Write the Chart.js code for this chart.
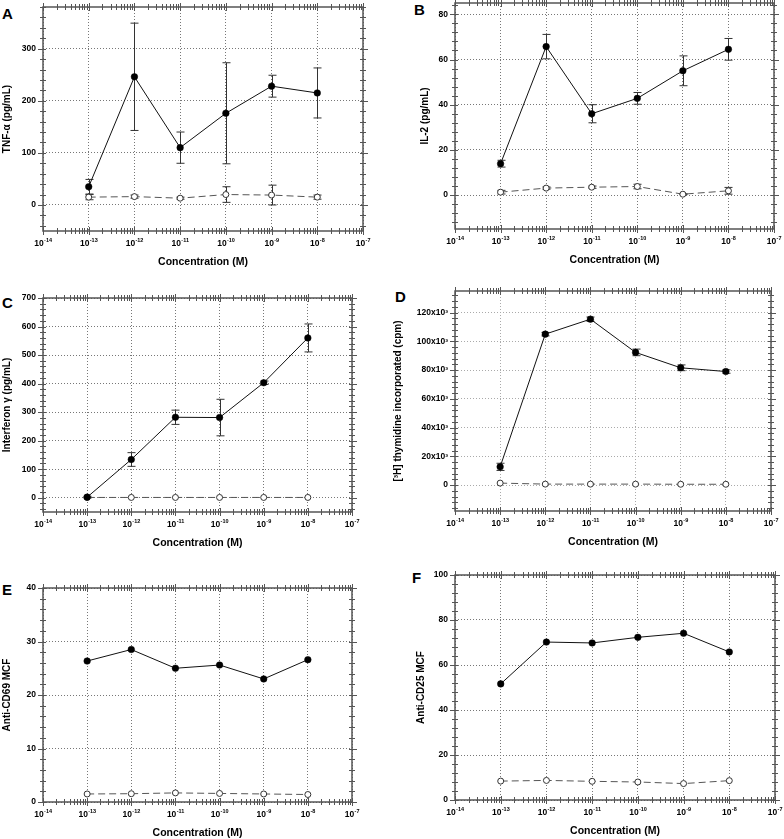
<!DOCTYPE html>
<html><head><meta charset="utf-8">
<script src="https://cdn.jsdelivr.net/npm/chart.js@4.4.1/dist/chart.umd.min.js"></script>
<style>
html,body{margin:0;padding:0;background:#fff;width:784px;height:839px;overflow:hidden;position:relative;}
canvas{position:absolute;}
.lbl{position:absolute;font:bold 15px/15px "Liberation Sans",Arial,sans-serif;color:#000;}
</style></head><body>
<div class="lbl" style="left:2px;top:6px">A</div>
<div class="lbl" style="left:414px;top:2px">B</div>
<div class="lbl" style="left:2px;top:295px">C</div>
<div class="lbl" style="left:395px;top:289px">D</div>
<div class="lbl" style="left:2px;top:582px">E</div>
<div class="lbl" style="left:412px;top:570px">F</div>
<script>
// ---------- shared axis data ----------
const concentrations = [1e-13, 1e-12, 1e-11, 1e-10, 1e-9, 1e-8];
const xTickValues = [1e-14, 1e-13, 1e-12, 1e-11, 1e-10, 1e-9, 1e-8, 1e-7];
const xTickBase = '10';
const xTickExponents = ['-14', '-13', '-12', '-11', '-10', '-9', '-8', '-7'];
const xTitle = 'Concentration (M)';

// ---------- A: TNF-alpha ----------
const tnfTreated = [35, 246, 110, 176, 228, 215];
const tnfTreatedErr = [14, 103, 30, 97, 21, 48];
const tnfControl = [15, 16, 13, 20, 19, 15];
const tnfControlErr = [5, 3, 2, 15, 19, 4];
const tnfYTicks = [0, 100, 200, 300];
const tnfYLabels = ['0', '100', '200', '300'];

// ---------- B: IL-2 ----------
const il2Treated = [13.9, 65.7, 36, 42.8, 55, 64.5];
const il2TreatedErr = [1.5, 5.4, 4, 2.6, 6.6, 4.8];
const il2Control = [1.3, 3.1, 3.5, 3.8, 0.4, 1.9];
const il2ControlErr = [0.8, 0.5, 0.5, 1, 0.2, 1.5];
const il2YTicks = [0, 20, 40, 60, 80];
const il2YLabels = ['0', '20', '40', '60', '80'];

// ---------- C: Interferon gamma ----------
const ifnTreated = [2, 134, 282, 281, 403, 560];
const ifnTreatedErr = [3, 24, 25, 64, 6, 49];
const ifnControl = [1, 1, 1, 1, 1, 1];
const ifnControlErr = [0, 0, 0, 0, 0, 0];
const ifnYTicks = [0, 100, 200, 300, 400, 500, 600, 700];
const ifnYLabels = ['0', '100', '200', '300', '400', '500', '600', '700'];

// ---------- D: [3H] thymidine ----------
const thyTreated = [12700, 105000, 115400, 92300, 81600, 79000];
const thyTreatedErr = [2500, 1200, 1500, 2300, 2000, 1200];
const thyControl = [1400, 700, 700, 700, 600, 600];
const thyControlErr = [0, 0, 0, 0, 0, 0];
const thyYTicks = [0, 20000, 40000, 60000, 80000, 100000, 120000];
const thyYLabels = ['0', '20x10³', '40x10³', '60x10³', '80x10³', '100x10³', '120x10³'];

// ---------- E: Anti-CD69 ----------
const cd69Treated = [26.35, 28.5, 25.0, 25.6, 23.0, 26.6];
const cd69Control = [1.5, 1.55, 1.7, 1.6, 1.5, 1.4];
const cd69YTicks = [0, 10, 20, 30, 40];
const cd69YLabels = ['0', '10', '20', '30', '40'];

// ---------- F: Anti-CD25 ----------
const cd25Treated = [51.6, 70.2, 69.8, 72.3, 74.1, 65.8];
const cd25Control = [8.4, 8.7, 8.3, 8.0, 7.3, 8.6];
const cd25YTicks = [0, 20, 40, 60, 80, 100];
const cd25YLabels = ['0', '20', '40', '60', '80', '100'];

// ---------- panel layout (positions/styles only) ----------
const panels = [
  {cx:0,   l:43,  t:7,   r:363, b:231, yMin:-50,  yMax:380, minor:20, yTitle:'TNF-α (pg/mL)', titlePad:1.5,
   treated:tnfTreated, treatedErr:tnfTreatedErr, control:tnfControl, controlErr:tnfControlErr, yTicks:tnfYTicks, yLabels:tnfYLabels, grid:'#777'},
  {cx:392, l:455, t:3,   r:774, b:229, yMin:-15,  yMax:85,  minor:4,  yTitle:'IL-2 (pg/mL)', titlePad:27,
   treated:il2Treated, treatedErr:il2TreatedErr, control:il2Control, controlErr:il2ControlErr, yTicks:il2YTicks, yLabels:il2YLabels, grid:'#777'},
  {cx:0,   l:43,  t:298, r:352, b:512, yMin:-50,  yMax:700, minor:20, yTitle:'Interferon γ (pg/mL)', titlePad:1.5,
   treated:ifnTreated, treatedErr:ifnTreatedErr, control:ifnControl, controlErr:ifnControlErr, yTicks:ifnYTicks, yLabels:ifnYLabels, grid:'#777'},
  {cx:392, l:455, t:291, r:771, b:511, yMin:-18000, yMax:135000, minor:4000, yTitle:'[³H] thymidine incorporated (cpm)', titlePad:0,
   treated:thyTreated, treatedErr:thyTreatedErr, control:thyControl, controlErr:thyControlErr, yTicks:thyYTicks, yLabels:thyYLabels, grid:'#aaa'},
  {cx:0,   l:43,  t:588, r:352, b:802, yMin:0,    yMax:40,  minor:2,  yTitle:'Anti-CD69 MCF', titlePad:1.5,
   treated:cd69Treated, treatedErr:null, control:cd69Control, controlErr:null, yTicks:cd69YTicks, yLabels:cd69YLabels, grid:'#777'},
  {cx:392, l:455, t:575, r:775, b:800, yMin:0,    yMax:100, minor:4,  yTitle:'Anti-CD25 MCF', titlePad:23,
   treated:cd25Treated, treatedErr:null, control:cd25Control, controlErr:null, yTicks:cd25YTicks, yLabels:cd25YLabels, grid:'#777'}
];

const FONT = '"Liberation Sans", Arial, Helvetica, sans-serif';
Chart.defaults.font.family = FONT;
Chart.defaults.color = '#000';

const framePlugin = {
  id: 'frame',
  beforeDatasetsDraw(chart) {
    const ctx = chart.ctx, xs = chart.scales.x, ys = chart.scales.y;
    ctx.save();
    ctx.strokeStyle = '#333';
    ctx.lineWidth = 1;
    chart.data.datasets.forEach(ds => {
      if (!ds.errors) return;
      ds.data.forEach((pt, i) => {
        const e = ds.errors[i];
        if (!e) return;
        const px = Math.round(xs.getPixelForValue(pt.x)) + 0.5;
        const y1 = ys.getPixelForValue(pt.y + e), y2 = ys.getPixelForValue(pt.y - e);
        ctx.beginPath();
        ctx.moveTo(px, y1); ctx.lineTo(px, y2);
        ctx.moveTo(px - 4, y1); ctx.lineTo(px + 4, y1);
        ctx.moveTo(px - 4, y2); ctx.lineTo(px + 4, y2);
        ctx.stroke();
      });
    });
    ctx.restore();
  },
  afterDraw(chart) {
    const ctx = chart.ctx, xs = chart.scales.x, ys = chart.scales.y;
    const a = chart.chartArea;
    const p = chart.options.plugins.frame;
    ctx.save();
    ctx.strokeStyle = '#555';
    ctx.lineWidth = 1;
    ctx.beginPath();
    for (let d = -14; d <= -7; d++) {
      for (let k = 1; k <= 9; k++) {
        if (d === -7 && k > 1) break;
        const v = k * Math.pow(10, d);
        const px = Math.round(xs.getPixelForValue(v)) + 0.5;
        const len = k === 1 ? 4 : 3;
        ctx.moveTo(px, a.bottom - len); ctx.lineTo(px, a.bottom + len);
        ctx.moveTo(px, a.top - len); ctx.lineTo(px, a.top + len);
      }
    }
    const n0 = Math.ceil(p.yMin / p.minor), n1 = Math.floor(p.yMax / p.minor);
    for (let n = n0; n <= n1; n++) {
      const v = n * p.minor;
      const major = p.yTicks.some(t => Math.abs(t - v) < p.minor * 1e-3);
      const py = Math.round(ys.getPixelForValue(v)) + 0.5;
      const out = major ? 5 : 3, inn = 3;
      ctx.moveTo(a.left - out, py); ctx.lineTo(a.left + inn, py);
      ctx.moveTo(a.right - inn, py); ctx.lineTo(a.right + out, py);
    }
    ctx.stroke();
    ctx.lineWidth = 1.5;
    ctx.strokeRect(a.left, a.top, a.right - a.left, a.bottom - a.top);
    // x tick labels: base "10" with a raised exponent
    ctx.fillStyle = '#000';
    ctx.textBaseline = 'alphabetic';
    ctx.textAlign = 'left';
    const bigF = 'bold 8.5px ' + FONT, smallF = 'bold 5.5px ' + FONT;
    xTickValues.forEach((v, i) => {
      const px = xs.getPixelForValue(v);
      ctx.font = bigF; const w1 = ctx.measureText(xTickBase).width;
      ctx.font = smallF; const w2 = ctx.measureText(xTickExponents[i]).width;
      const x0 = px - (w1 + w2) / 2;
      const base = a.bottom + 15;
      ctx.font = bigF; ctx.fillText(xTickBase, x0, base);
      ctx.font = smallF; ctx.fillText(xTickExponents[i], x0 + w1 + 0.3, base - 4.5);
    });
    ctx.restore();
  }
};

function makePanel(p) {
  const YW = p.l - p.cx, PT = 16, PR = 18, XH = 37;
  const w = (p.r - p.l) + YW + PR, h = (p.b - p.t) + PT + XH;
  const cv = document.createElement('canvas');
  cv.width = w; cv.height = h;
  cv.style.left = p.cx + 'px'; cv.style.top = (p.t - PT) + 'px';
  cv.style.width = w + 'px'; cv.style.height = h + 'px';
  document.body.appendChild(cv);
  const mk = arr => concentrations.map((x, i) => ({x: x, y: arr[i]}));
  new Chart(cv, {
    type: 'line',
    data: {datasets: [
      {data: mk(p.treated), errors: p.treatedErr, borderColor: '#111', borderWidth: 1,
       pointRadius: 3.3, pointBackgroundColor: '#000', pointBorderColor: '#000', pointBorderWidth: 0.5,
       tension: 0, fill: false, order: 1},
      {data: mk(p.control), errors: p.controlErr, borderColor: '#555', borderWidth: 1, borderDash: [7, 4],
       pointRadius: 3, pointBackgroundColor: '#fff', pointBorderColor: '#333', pointBorderWidth: 1,
       tension: 0, fill: false, order: 2}
    ]},
    options: {
      responsive: false, animation: false, devicePixelRatio: 1,
      layout: {padding: {top: PT, right: PR, left: 0, bottom: 0}},
      plugins: {legend: {display: false}, tooltip: {enabled: false},
                frame: {yMin: p.yMin, yMax: p.yMax, minor: p.minor, yTicks: p.yTicks}},
      scales: {
        x: {
          type: 'logarithmic', min: 1e-14, max: 1e-7,
          afterBuildTicks: s => { s.ticks = xTickValues.map(v => ({value: v, major: true})); },
          afterFit: s => { s.height = XH; },
          ticks: {display: false, autoSkip: false, maxRotation: 0, minRotation: 0},
          grid: {drawTicks: false, color: p.grid, lineWidth: 1},
          border: {display: false, dash: [1, 2]},
          title: {display: true, text: xTitle, font: {size: 10.5, weight: 'bold'}, color: '#000', padding: 0}
        },
        y: {
          type: 'linear', min: p.yMin, max: p.yMax,
          afterBuildTicks: s => { s.ticks = p.yTicks.map(v => ({value: v})); },
          afterFit: s => { s.width = YW; },
          ticks: {callback: (v, i) => p.yLabels[i], autoSkip: false, padding: 7,
                  font: {size: 8.5, weight: 'bold'}, color: '#000'},
          grid: {drawTicks: false, color: p.grid, lineWidth: 1},
          border: {display: false, dash: [1, 2]},
          title: {display: true, text: p.yTitle, font: {size: 10, weight: 'bold'}, color: '#000',
                  padding: {top: p.titlePad, bottom: 0}}
        }
      }
    },
    plugins: [framePlugin]
  });
}
panels.forEach(makePanel);
</script>
</body></html>
